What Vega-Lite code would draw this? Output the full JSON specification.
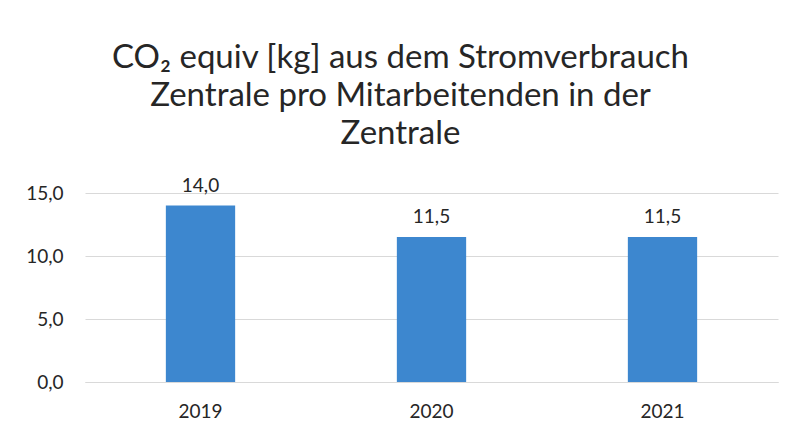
{
  "$schema": "https://vega.github.io/schema/vega-lite/v6.json",
  "width": 693,
  "height": 189,
  "autosize": "none",
  "padding": {"left": 85, "top": 193, "right": 19, "bottom": 55},
  "background": "white",
  "config": {
    "view": {"stroke": null},
    "font": "Lato",
    "locale": {"number": {"decimal": ",", "thousands": ".", "grouping": [3], "currency": ["", " €"]}}
  },
  "title": {
    "text": ["CO₂ equiv [kg] aus dem Stromverbrauch", "Zentrale pro Mitarbeitenden in der", "Zentrale"],
    "anchor": "middle",
    "fontSize": 33,
    "fontWeight": "normal",
    "font": "Lato",
    "color": "#262626",
    "lineHeight": 38,
    "offset": 26,
    "dx": -31
  },
  "data": {
    "values": [
      {"year": "2019", "value": 14.0},
      {"year": "2020", "value": 11.5},
      {"year": "2021", "value": 11.5}
    ]
  },
  "encoding": {
    "x": {
      "field": "year",
      "type": "nominal",
      "scale": {"paddingInner": 0.7, "paddingOuter": 0.35},
      "axis": {
        "title": null,
        "labelAngle": 0,
        "ticks": false,
        "domain": true,
        "domainColor": "#d9d9d9",
        "labelFontSize": 19,
        "labelColor": "#262626",
        "labelPadding": 20
      }
    },
    "y": {
      "field": "value",
      "type": "quantitative",
      "scale": {"domain": [0, 15]},
      "axis": {
        "title": null,
        "values": [0, 5, 10, 15],
        "format": ".1f",
        "ticks": false,
        "domain": false,
        "grid": true,
        "gridColor": "#d9d9d9",
        "labelFontSize": 19,
        "labelColor": "#262626",
        "labelPadding": 22
      }
    }
  },
  "layer": [
    {"mark": {"type": "bar", "color": "#3d87cf"}},
    {
      "mark": {"type": "text", "baseline": "bottom", "dy": -10, "fontSize": 19, "color": "#262626"},
      "encoding": {"text": {"field": "value", "type": "quantitative", "format": ".1f"}}
    }
  ]
}
